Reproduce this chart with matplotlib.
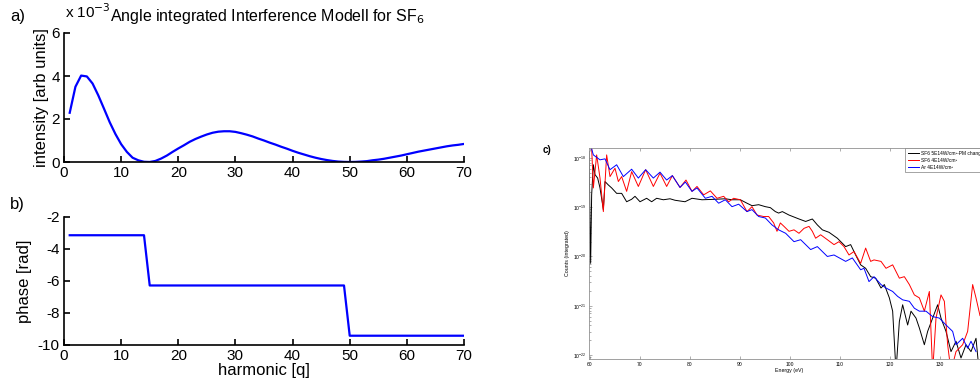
import numpy as np
import matplotlib.pyplot as plt

# --- panel a: angle integrated interference model (intensity in units of 1e-3) ---
harmonic = list(range(1, 71))
intensity = [2.29, 3.50, 4.02, 3.98, 3.65, 3.10, 2.48, 1.85, 1.30, 0.83,
             0.47, 0.20, 0.08, 0.01, 0.00, 0.05, 0.16, 0.30, 0.47, 0.63,
             0.78, 0.94, 1.07, 1.18, 1.28, 1.36, 1.41, 1.43, 1.43, 1.40,
             1.34, 1.27, 1.19, 1.09, 1.00, 0.90, 0.81, 0.71, 0.62, 0.52,
             0.43, 0.35, 0.27, 0.20, 0.14, 0.09, 0.05, 0.02, 0.005, 0.00,
             0.005, 0.02, 0.04, 0.08, 0.11, 0.15, 0.20, 0.25, 0.30, 0.36,
             0.42, 0.48, 0.53, 0.58, 0.63, 0.68, 0.73, 0.77, 0.80, 0.84]

# --- panel b: phase steps ---
phase_q = [1, 14, 15, 49, 50, 70]
phase = [-3.14, -3.14, -6.28, -6.28, -9.42, -9.42]

# --- panel c: measured spectra (log10 of integrated counts) ---
sf6_5e14_E = [59.8, 60.13, 60.33, 60.67, 61.0, 61.53, 62.0, 62.67, 63.0, 63.67,
              64.33, 65.33, 66.33, 67.33, 68.33, 69.0, 70.0, 71.33, 72.33, 73.33,
              74.67, 76.0, 77.0, 79.0, 80.4, 82.4, 85.07, 87.07, 88.4, 90.07,
              91.4, 92.4, 93.73, 95.07, 96.07, 97.07, 97.73, 98.47, 99.8, 101.8,
              103.13, 104.47, 105.47, 106.47, 107.8, 109.47, 111.13, 112.13, 113.13, 114.13,
              115.13, 116.13, 117.13, 118.2, 118.87, 119.87, 120.53, 121.2, 121.87, 122.53,
              123.53, 124.2, 125.2, 125.87, 126.87, 127.53, 128.53, 129.53, 130.2, 131.2,
              132.2, 133.2, 134.2, 135.2, 136.2, 137.2, 137.8]
sf6_5e14_log = [-17.87, -20.14, -18.75, -18.14, -18.34, -18.41, -18.61, -19.05, -18.48, -18.55,
                -18.61, -18.72, -18.72, -18.89, -18.84, -18.78, -18.89, -18.82, -18.89, -18.82,
                -18.85, -18.83, -18.86, -18.89, -18.82, -18.85, -18.84, -18.83, -18.85, -18.85,
                -18.92, -18.97, -18.95, -18.99, -19.01, -19.09, -19.12, -19.09, -19.16, -19.24,
                -19.29, -19.24, -19.36, -19.46, -19.51, -19.63, -19.80, -19.76, -19.97, -20.17,
                -20.24, -20.41, -20.44, -20.64, -20.57, -20.84, -21.11, -22.33, -21.32, -20.98,
                -21.39, -21.11, -21.25, -21.45, -21.79, -21.52, -21.25, -20.98, -21.25, -21.52,
                -21.93, -21.72, -22.06, -21.79, -21.93, -21.66, -22.3]

sf6_4e14_E = [60.0, 60.33, 60.67, 61.33, 62.0, 62.67, 63.33, 64.0, 65.0, 65.67,
              66.33, 67.33, 68.33, 69.67, 71.13, 72.67, 74.0, 75.33, 76.47, 78.0,
              79.2, 80.4, 81.4, 82.73, 84.07, 85.4, 86.73, 87.73, 88.73, 90.07,
              91.4, 92.4, 93.4, 94.73, 95.73, 96.73, 97.4, 98.07, 98.8, 99.8,
              100.8, 101.8, 102.8, 103.8, 104.47, 105.13, 106.13, 107.47, 108.8, 109.8,
              110.8, 111.8, 112.8, 114.13, 115.13, 116.13, 116.8, 118.2, 119.2, 120.53,
              121.87, 122.87, 123.87, 124.87, 125.87, 126.87, 127.87, 128.53, 129.2, 130.2,
              130.87, 131.53, 132.2, 133.2, 134.53, 135.53, 136.53, 137.2, 138.0]
sf6_4e14_log = [-17.6, -17.80, -18.61, -17.94, -18.41, -19.09, -17.94, -18.38, -18.21, -18.48,
                -18.38, -18.68, -18.28, -18.58, -18.24, -18.58, -18.31, -18.58, -18.36, -18.60,
                -18.45, -18.68, -18.58, -18.75, -18.67, -18.82, -18.78, -18.89, -18.82, -18.85,
                -19.09, -18.99, -19.16, -19.19, -19.19, -19.32, -19.49, -19.32, -19.39, -19.49,
                -19.46, -19.53, -19.43, -19.39, -19.49, -19.63, -19.56, -19.66, -19.76, -19.70,
                -19.80, -19.97, -19.90, -20.14, -19.83, -20.10, -20.07, -20.10, -20.24, -20.17,
                -20.44, -20.41, -20.57, -20.78, -20.84, -21.11, -20.71, -22.33, -21.25, -20.78,
                -20.91, -21.79, -22.33, -21.93, -21.79, -21.52, -20.57, -20.84, -21.2]

ar_4e14_E = [60.0, 60.67, 62.0, 63.0, 64.0, 65.33, 66.67, 68.33, 69.67, 71.13,
             72.67, 74.0, 75.33, 76.47, 78.0, 79.07, 80.4, 81.4, 83.07, 84.4,
             85.73, 87.07, 88.4, 89.73, 91.4, 92.4, 93.73, 95.07, 96.4, 97.73,
             99.13, 100.8, 102.13, 104.13, 105.47, 107.47, 108.8, 111.13, 112.47, 114.13,
             114.8, 115.8, 116.8, 118.2, 119.2, 120.53, 121.53, 122.53, 123.87, 124.87,
             125.87, 127.2, 128.53, 129.87, 131.2, 132.53, 133.2, 134.53, 135.53, 136.2,
             137.2]
ar_4e14_log = [-17.7, -17.94, -18.04, -18.02, -18.24, -18.14, -18.38, -18.23, -18.41, -18.24,
               -18.41, -18.29, -18.45, -18.36, -18.60, -18.49, -18.68, -18.61, -18.82, -18.78,
               -18.92, -18.85, -18.99, -18.94, -19.09, -19.05, -19.19, -19.22, -19.36, -19.46,
               -19.53, -19.70, -19.66, -19.86, -19.80, -20.00, -19.97, -20.10, -20.03, -20.27,
               -20.24, -20.51, -20.41, -20.57, -20.64, -20.71, -20.81, -20.88, -20.91, -21.05,
               -21.11, -21.11, -21.22, -21.25, -21.39, -21.52, -21.79, -21.66, -21.86, -21.72,
               -21.93]

# first label is cut at the image edge in the original
legend_labels = ['SF6 5E14W/cm\u00b2-PM chang', 'SF6 4E14W/cm\u00b2', 'Ar 4E14W/cm\u00b2']

plt.rcParams['font.family'] = ['Liberation Sans', 'DejaVu Sans']
plt.rcParams['axes.unicode_minus'] = False

W, H = 980, 381
fig = plt.figure(figsize=(W / 100, H / 100), dpi=100)


def px_axes(left, top, right, bottom):
    return fig.add_axes([left / W, 1 - bottom / H, (right - left) / W, (bottom - top) / H])


def matlab_style(ax):
    for side in ['top', 'right']:
        ax.spines[side].set_visible(False)
    for side in ['left', 'bottom']:
        ax.spines[side].set_linewidth(1.2)
    ax.tick_params(direction='in', length=4, width=1.2, labelsize=11, pad=3)


# --- a) ---
ax1 = px_axes(64, 33, 464, 162)
ax1.plot(harmonic, intensity, color='blue', lw=1.6)
ax1.set_xlim(0, 70)
ax1.set_ylim(0, 6)
ax1.set_xticks(range(0, 71, 10))
ax1.set_yticks([0, 2, 4, 6])
ax1.set_ylabel('intensity [arb units]', fontsize=12, labelpad=2)
matlab_style(ax1)
fig.text(65 / W, 1 - 12 / H, 'x 10$^{-3}$', fontsize=11, va='center', ha='left')
fig.text(267 / W, 1 - 16 / H, 'Angle integrated Interference Modell for SF$_6$',
         fontsize=11.5, ha='center', va='center')
fig.text(10 / W, 1 - 16 / H, 'a)', fontsize=12, va='center')

# --- b) ---
ax2 = px_axes(64, 217, 464, 345)
ax2.plot(phase_q, phase, color='blue', lw=1.6)
ax2.set_xlim(0, 70)
ax2.set_ylim(-10, -2)
ax2.set_xticks(range(0, 71, 10))
ax2.set_yticks([-10, -8, -6, -4, -2])
ax2.set_xlabel('harmonic [q]', fontsize=12, labelpad=0)
ax2.set_ylabel('phase [rad]', fontsize=12, labelpad=4)
matlab_style(ax2)
fig.text(10 / W, 1 - 205 / H, 'b)', fontsize=12, va='center')

# --- c) ---
ax3 = px_axes(589, 148, 990, 359)
ax3.plot(sf6_5e14_E, 10 ** np.array(sf6_5e14_log), color='black', lw=0.7, label=legend_labels[0])
ax3.plot(sf6_4e14_E, 10 ** np.array(sf6_4e14_log), color='red', lw=0.7, label=legend_labels[1])
ax3.plot(ar_4e14_E, 10 ** np.array(ar_4e14_log), color='blue', lw=0.7, label=legend_labels[2])
ax3.set_yscale('log')
ax3.set_xlim(59.8, 140)
ax3.set_ylim(10 ** -22.08, 10 ** -17.8)
ax3.set_xticks(range(60, 131, 10))
ax3.set_yticks([1e-22, 1e-21, 1e-20, 1e-19, 1e-18])
for sp in ax3.spines.values():
    sp.set_color('#909090')
    sp.set_linewidth(0.6)
ax3.tick_params(which='both', direction='in', labelsize=3.6, width=0.4, color='#707070',
                top=True, right=True, pad=2)
ax3.tick_params(which='major', length=2.5)
ax3.tick_params(which='minor', length=1.3)
ax3.set_xlabel('Energy (eV)', fontsize=3.8, labelpad=1)
ax3.set_ylabel('Counts (integrated)', fontsize=3.8, labelpad=2)
leg = ax3.legend(loc='upper left', bbox_to_anchor=(903 / W, 1 - 146 / H),
                 bbox_transform=fig.transFigure, fontsize=3.5, frameon=True, fancybox=False,
                 edgecolor='#808080', framealpha=1, handlelength=2.2, handletextpad=0.5,
                 borderpad=0.5, labelspacing=0.4)
leg.get_frame().set_linewidth(0.5)
fig.text(543 / W, 1 - 150 / H, 'c)', fontsize=7, fontweight='bold', va='center')

fig.savefig('out.png', dpi=100)
